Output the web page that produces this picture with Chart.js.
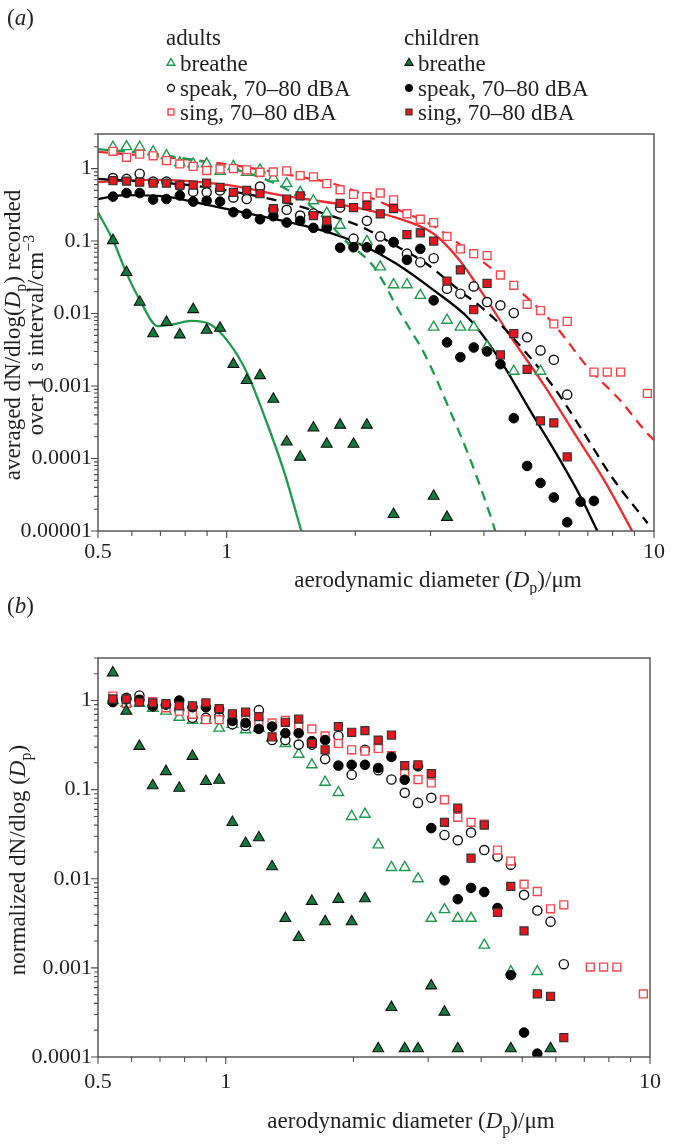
<!DOCTYPE html>
<html>
<head>
<meta charset="utf-8">
<script src="https://cdn.jsdelivr.net/npm/chart.js@4.4.1/dist/chart.umd.min.js"></script>
<style>
  html, body { margin: 0; padding: 0; background: #fff; }
  #wrap { position: relative; width: 673px; height: 1145px; overflow: hidden; }
  #wrap canvas { position: absolute; left: 0; }
  #chartA { top: 0; }
  #chartB { top: 595px; }
</style>
</head>
<body>
<div id="wrap">
  <canvas id="chartA" width="673" height="595"></canvas>
  <canvas id="chartB" width="673" height="550"></canvas>
</div>
<script>
// APS channel midpoints (µm)
const sizes = [0.542, 0.583, 0.626, 0.673, 0.723, 0.777, 0.835, 0.898, 0.965, 1.037,
    1.114, 1.197, 1.286, 1.382, 1.486, 1.596, 1.715, 1.843, 1.981, 2.129,
    2.288, 2.458, 2.642, 2.839, 3.051, 3.278, 3.523, 3.786, 4.068, 4.371,
    4.698, 5.048, 5.425, 5.829, 6.264, 6.732, 7.234, 7.774, 8.354, 8.977, 9.647];

const xTicks = [0.5, 1, 10];
const yTicksA = [1, 0.1, 0.01, 0.001, 0.0001, 0.00001];
const yTicksB = [1, 0.1, 0.01, 0.001, 0.0001];

// (a) averaged dN/dlog(Dp), one value per channel (null = no point)
const adultBreatheA = [1.97, 2.01, 1.97, 1.71, 1.51, 1.20, 1.16, 1.16, 0.92, 1.07, 0.89, 0.96, 0.74, 0.62, 0.47, 0.36, 0.243, 0.165, 0.10, 0.099,
    0.044, 0.025, 0.025, 0.0178, 0.0065, 0.0081, 0.0065, 0.0065, 0.0035, null, 0.0016, null, 0.0016];
const adultSpeakA = [0.74, 0.72, 0.85, 0.66, 0.66, 0.58, 0.48, 0.47, 0.50, 0.40, 0.38, 0.565, 0.27, 0.27, 0.225, 0.24, 0.16, 0.29, 0.108, 0.19,
    0.116, 0.096, 0.067, 0.051, 0.058, 0.022, 0.0188, 0.0237, 0.0144, 0.013, 0.0102, 0.0047, 0.0031, 0.0023, 0.00076];
const adultSingA = [1.73, 1.43, 1.58, 1.50, 1.29, 1.16, 1.07, 0.94, 0.99, 1.00, 0.96, 0.89, 0.90, 0.93, 0.80, 0.77, 0.62, 0.51, 0.44, 0.41,
    0.46, 0.37, 0.238, 0.20, 0.18, 0.116, 0.078, 0.067, 0.063, 0.034, 0.0245, 0.0134, 0.011, 0.0072, 0.0078, null, 0.00156, 0.00156, 0.00156, null, 0.00079];
const childBreatheA = [0.102, 0.037, 0.0144, 0.0053, 0.0076, 0.0051, 0.0114, 0.0059, 0.0063, 0.0020, 0.0012, 0.0014, 0.00066, 0.00017, 0.000105, 0.000265, 0.000158, 0.00029, 0.000158, 0.00029,
    null, 0.000017, null, null, 0.0000303, 0.0000155];
const childSpeakA = [0.41, 0.46, 0.46, 0.374, 0.38, 0.425, 0.35, 0.36, 0.35, 0.25, 0.238, 0.20, 0.22, 0.18, 0.19, 0.152, 0.15, 0.081, 0.082, 0.082,
    0.076, 0.097, 0.055, 0.078, 0.0152, 0.0040, 0.0025, 0.0034, 0.0030, 0.0020, 0.00036, 0.000079, 0.000046, 0.000029, 0.0000132, 0.0000253, 0.000026];
const childSingA = [0.68, 0.67, 0.65, 0.63, 0.63, 0.59, 0.59, 0.63, 0.55, 0.47, 0.50, 0.45, 0.28, 0.38, 0.42, 0.225, 0.19, 0.33, 0.29, 0.31,
    0.238, 0.28, 0.123, 0.13, 0.10, 0.028, 0.040, 0.0113, 0.026, 0.0027, 0.0053, 0.0017, 0.00033, 0.00031, 0.000105];

// (a) fitted curves
const fitAdultBreatheX = [0.5, 0.7, 1.0, 1.3, 1.5, 1.7, 1.9, 2.21, 2.54, 2.93, 3.30, 3.72, 4.16, 4.25];
const fitAdultBreatheY = [1.85, 1.55, 1.05, 0.62, 0.38, 0.2, 0.1, 0.044, 0.0105, 0.0025, 0.00052, 0.000095, 0.000015, 0.00001];
const fitAdultSpeakX = [0.5, 0.8, 1.0, 1.4, 1.81, 2.08, 2.5, 2.93, 3.5, 4.03, 4.54, 5.82, 6.79, 7.96, 9.66];
const fitAdultSpeakY = [0.72, 0.6, 0.5, 0.33, 0.21, 0.155, 0.085, 0.049, 0.021, 0.011, 0.0056, 0.00097, 0.000246, 0.000056, 0.0000128];
const fitAdultSingX = [0.5, 0.8, 1.0, 1.4, 1.845, 2.44, 3.08, 3.80, 4.74, 5.82, 6.99, 8.32, 9.66, 10];
const fitAdultSingY = [1.7, 1.35, 1.15, 0.82, 0.58, 0.293, 0.155, 0.063, 0.023, 0.0072, 0.00183, 0.00064, 0.00022, 0.00018];
const fitChildBreatheX = [0.5, 0.543, 0.582, 0.627, 0.69, 0.748, 0.828, 0.914, 1.011, 1.117, 1.235, 1.366, 1.495];
const fitChildBreatheY = [0.25, 0.10, 0.037, 0.0152, 0.0067, 0.0071, 0.0079, 0.0071, 0.0040, 0.0015, 0.00034, 0.000063, 0.00001];
const fitChildSpeakX = [0.5, 0.58, 0.72, 0.913, 1.233, 1.67, 2.04, 2.49, 3.05, 3.72, 4.37, 5.12, 6.03, 6.79, 7.37];
const fitChildSpeakY = [0.38, 0.43, 0.41, 0.31, 0.214, 0.14, 0.092, 0.049, 0.021, 0.0081, 0.00226, 0.00047, 0.000095, 0.000027, 0.00001];
const fitChildSingX = [0.5, 0.677, 1.01, 1.366, 1.845, 2.49, 3.05, 3.51, 4.07, 4.54, 5.56, 6.52, 7.65, 8.89];
const fitChildSingY = [0.65, 0.70, 0.59, 0.42, 0.32, 0.21, 0.126, 0.054, 0.0152, 0.0056, 0.00098, 0.00022, 0.00005, 0.00001];

// (b) normalized dN/dlog(Dp)
const adultBreatheB = [1.0, 0.93, 0.93, 0.82, 0.76, 0.65, 0.60, 0.60, 0.49, 0.54, 0.47, 0.49, 0.38, 0.33, 0.25, 0.19, 0.121, 0.093, 0.05, 0.053,
    0.024, 0.0134, 0.0134, 0.01, 0.0036, 0.0045, 0.0036, 0.0036, 0.0018, null, 0.00091, null, 0.00091];
const adultSpeakB = [1.0, 1.07, 1.14, 0.88, 0.88, 0.79, 0.64, 0.64, 0.66, 0.54, 0.52, 0.78, 0.36, 0.36, 0.32, 0.32, 0.22, 0.40, 0.147, 0.28,
    0.165, 0.13, 0.092, 0.071, 0.081, 0.031, 0.027, 0.033, 0.021, 0.0178, 0.0144, 0.0066, 0.0044, 0.0033, 0.0011];
const adultSingB = [1.12, 0.93, 1.02, 0.97, 0.83, 0.76, 0.70, 0.61, 0.61, 0.64, 0.61, 0.57, 0.56, 0.60, 0.52, 0.48, 0.40, 0.33, 0.28, 0.27,
    0.29, 0.24, 0.154, 0.13, 0.119, 0.077, 0.049, 0.043, 0.041, 0.021, 0.0158, 0.0087, 0.0072, 0.0046, 0.0051, null, 0.00102, 0.00102, 0.00102, null, 0.00051];
const childBreatheB = [2.05, 0.76, 0.307, 0.111, 0.16, 0.104, 0.237, 0.124, 0.128, 0.043, 0.025, 0.029, 0.0137, 0.0036, 0.0022, 0.0056, 0.0033, 0.0059, 0.0033, 0.006,
    0.000124, 0.00036, 0.000124, 0.000124, 0.00063, 0.00032, 0.000124, null, null, null, 0.000124, null, null, 0.000124];
const childSpeakB = [0.96, 1.03, 1.02, 0.86, 0.90, 1.00, 0.84, 0.84, 0.80, 0.59, 0.56, 0.48, 0.51, 0.43, 0.43, 0.35, 0.36, 0.186, 0.19, 0.19,
    0.175, 0.233, 0.129, 0.183, 0.037, 0.0096, 0.0059, 0.0079, 0.0071, 0.0047, 0.00083, 0.000188, 0.000109];
const childSingB = [1.04, 1.04, 0.96, 0.94, 0.92, 0.87, 0.87, 0.94, 0.81, 0.71, 0.74, 0.66, 0.39, 0.57, 0.62, 0.33, 0.28, 0.51, 0.44, 0.46,
    0.36, 0.41, 0.186, 0.19, 0.151, 0.043, 0.062, 0.017, 0.04, 0.0042, 0.0082, 0.0026, 0.00051, 0.00048, 0.000165];

const legendGroups = ['adults', 'children'];
const legendLabels = ['breathe', 'speak, 70\u201380 dBA', 'sing, 70\u201380 dBA'];

const FONT = "'Liberation Serif', 'Times New Roman', serif";
const FONT_SIZE = 23;
const TICK_SIZE = 22;
const TEXT = '#231f20';
const AXIS = '#4d4d4d';
const GREEN = '#1f9a4c';
const DARK_GREEN = '#137a3c';
const RED = '#ee2b2e';
const LIGHT_RED = '#f04a4e';

const markers = {
    adultBreathe: { pointStyle: 'triangle', radius: 6, fill: '#ffffff', stroke: GREEN, width: 1.4 },
    adultSpeak: { pointStyle: 'circle', radius: 4.6, fill: '#ffffff', stroke: '#111111', width: 1.4 },
    adultSing: { pointStyle: 'rect', radius: 5.6, fill: '#ffffff', stroke: LIGHT_RED, width: 1.4 },
    childBreathe: { pointStyle: 'triangle', radius: 6.3, fill: DARK_GREEN, stroke: '#111111', width: 1.1 },
    childSpeak: { pointStyle: 'circle', radius: 4.8, fill: '#000000', stroke: '#000000', width: 1 },
    childSing: { pointStyle: 'rect', radius: 5.7, fill: '#e8151d', stroke: '#333333', width: 1.2 }
};

function pts(vals) {
    return sizes.map((x, i) => (vals[i] == null ? null : { x: x, y: vals[i] })).filter(p => p);
}

function curve(xs, ys) {
    return xs.map((x, i) => ({ x: x, y: ys[i] }));
}

function markerSet(vals, m, order) {
    return {
        data: pts(vals),
        showLine: false,
        pointStyle: m.pointStyle,
        pointRadius: m.radius,
        pointBackgroundColor: m.fill,
        pointBorderColor: m.stroke,
        pointBorderWidth: m.width,
        order: order
    };
}

function fitSet(xs, ys, color, dashed) {
    return {
        data: curve(xs, ys),
        showLine: true,
        pointRadius: 0,
        borderColor: color,
        borderWidth: 2.3,
        borderDash: dashed ? [10, 7] : [],
        cubicInterpolationMode: 'monotone',
        order: 10
    };
}

// text with italic / sub / sup runs, y is the baseline
function richText(ctx, parts, x, y, size, align) {
    const fontFor = st => (st === 'i' ? 'italic ' : '') +
        ((st === 'sub' || st === 'sup') ? Math.round(size * 0.68) : size) + 'px ' + FONT;
    let total = 0;
    parts.forEach(([t, st]) => { ctx.font = fontFor(st); total += ctx.measureText(t).width; });
    let cx = align === 'center' ? x - total / 2 : x;
    ctx.textAlign = 'left';
    ctx.textBaseline = 'alphabetic';
    parts.forEach(([t, st]) => {
        ctx.font = fontFor(st);
        const dy = st === 'sub' ? size * 0.26 : (st === 'sup' ? -size * 0.38 : 0);
        ctx.fillText(t, cx, y + dy);
        cx += ctx.measureText(t).width;
    });
}

function rotatedText(ctx, parts, x, y, size) {
    ctx.save();
    ctx.translate(x, y);
    ctx.rotate(-Math.PI / 2);
    richText(ctx, parts, 0, 0, size, 'center');
    ctx.restore();
}

function drawMarker(ctx, m, x, y) {
    ctx.save();
    ctx.fillStyle = m.fill;
    ctx.strokeStyle = m.stroke;
    ctx.lineWidth = m.width;
    Chart.helpers.drawPoint(ctx, { pointStyle: m.pointStyle, radius: m.radius, rotation: 0, borderWidth: m.width }, x, y);
    ctx.restore();
}

// box round the plot and log tick marks (outside)
const framePlugin = {
    id: 'frame',
    afterDraw(chart) {
        const { ctx, chartArea: a } = chart;
        const x = chart.scales.x, y = chart.scales.y;
        ctx.save();
        ctx.strokeStyle = AXIS;
        ctx.lineWidth = 1.4;
        ctx.strokeRect(a.left, a.top, a.right - a.left, a.bottom - a.top);
        ctx.lineWidth = 1.1;
        ctx.beginPath();
        for (let d = -6; d <= 1; d++) {
            for (let m = 1; m <= 9; m++) {
                const v = m * Math.pow(10, d);
                if (v < y.min * 0.999 || v > y.max * 1.001) continue;
                const py = y.getPixelForValue(v);
                const len = m === 1 ? 7 : 4;
                ctx.moveTo(a.left - len, py);
                ctx.lineTo(a.left, py);
            }
        }
        for (let d = -1; d <= 1; d++) {
            for (let m = 1; m <= 9; m++) {
                const v = m * Math.pow(10, d);
                if (v < x.min * 0.999 || v > x.max * 1.001) continue;
                const px = x.getPixelForValue(v);
                const major = xTicks.some(t => Math.abs(t - v) < 1e-9);
                ctx.moveTo(px, a.bottom);
                ctx.lineTo(px, a.bottom + (major ? 7 : 5));
            }
        }
        ctx.stroke();
        ctx.restore();
    }
};

const textPluginA = {
    id: 'textA',
    afterDraw(chart) {
        const ctx = chart.ctx;
        ctx.save();
        ctx.fillStyle = TEXT;
        richText(ctx, [['(', 'n'], ['a', 'i'], [')', 'n']], 7, 25, FONT_SIZE, 'left');

        // legend, two columns
        const cols = [
            { x: 166, items: [markers.adultBreathe, markers.adultSpeak, markers.adultSing] },
            { x: 404, items: [markers.childBreathe, markers.childSpeak, markers.childSing] }
        ];
        const rowY = [63, 88, 112];
        cols.forEach((c, ci) => {
            ctx.fillStyle = TEXT;
            richText(ctx, [[legendGroups[ci], 'n']], c.x, 37 + 8, FONT_SIZE, 'left');
            c.items.forEach((m, ri) => {
                drawMarker(ctx, { ...m, radius: m.radius * 0.75 }, c.x + 5, rowY[ri]);
                ctx.fillStyle = TEXT;
                richText(ctx, [[legendLabels[ri], 'n']], c.x + 14, rowY[ri] + 8, FONT_SIZE, 'left');
            });
        });

        ctx.fillStyle = TEXT;
        rotatedText(ctx, [['averaged dN/dlog(', 'n'], ['D', 'i'], ['p', 'sub'], [') recorded', 'n']], 20, 335, FONT_SIZE);
        rotatedText(ctx, [['over 1 s interval/cm', 'n'], ['\u22123', 'sup']], 43, 335, FONT_SIZE);
        richText(ctx, [['aerodynamic diameter (', 'n'], ['D', 'i'], ['p', 'sub'], [')/\u03bcm', 'n']], 438, 587, FONT_SIZE, 'center');
        ctx.restore();
    }
};

const textPluginB = {
    id: 'textB',
    afterDraw(chart) {
        const ctx = chart.ctx;
        ctx.save();
        ctx.fillStyle = TEXT;
        richText(ctx, [['(', 'n'], ['b', 'i'], [')', 'n']], 7, 18, FONT_SIZE, 'left');
        rotatedText(ctx, [['normalized dN/dlog (', 'n'], ['D', 'i'], ['p', 'sub'], [')', 'n']], 25, 265, FONT_SIZE);
        richText(ctx, [['aerodynamic diameter (', 'n'], ['D', 'i'], ['p', 'sub'], [')/\u03bcm', 'n']], 411, 533, FONT_SIZE, 'center');
        ctx.restore();
    }
};

function makePanel(canvas, cfg) {
    const tickFont = { family: FONT, size: TICK_SIZE };
    return new Chart(canvas.getContext('2d'), {
        type: 'scatter',
        data: { datasets: cfg.datasets },
        options: {
            responsive: false,
            animation: false,
            devicePixelRatio: 1,
            layout: { padding: { top: cfg.top, right: 15, left: 0, bottom: 0 } },
            plugins: { legend: { display: false }, tooltip: { enabled: false } },
            scales: {
                x: {
                    type: 'logarithmic',
                    min: 0.5,
                    max: 10,
                    afterBuildTicks: s => { s.ticks = xTicks.map(v => ({ value: v })); },
                    afterFit: s => { s.height = cfg.xHeight; },
                    grid: { display: false, drawTicks: false },
                    border: { display: false },
                    ticks: {
                        color: TEXT, font: tickFont, padding: cfg.xPad,
                        autoSkip: false, maxRotation: 0,
                        callback: v => String(v)
                    }
                },
                y: {
                    type: 'logarithmic',
                    min: cfg.yMin,
                    max: 3,
                    afterBuildTicks: s => { s.ticks = cfg.yTicks.map(v => ({ value: v })); },
                    afterFit: s => { s.width = 98; },
                    grid: { display: false, drawTicks: false },
                    border: { display: false },
                    ticks: {
                        color: TEXT, font: tickFont, padding: 6,
                        autoSkip: false,
                        callback: v => String(v)
                    }
                }
            }
        },
        plugins: [framePlugin, cfg.textPlugin]
    });
}

makePanel(document.getElementById('chartA'), {
    top: 134, xHeight: 64, xPad: 8, yMin: 0.00001, yTicks: yTicksA, textPlugin: textPluginA,
    datasets: [
        markerSet(childSingA, markers.childSing, 0),
        markerSet(childSpeakA, markers.childSpeak, 1),
        markerSet(childBreatheA, markers.childBreathe, 2),
        markerSet(adultSingA, markers.adultSing, 3),
        markerSet(adultSpeakA, markers.adultSpeak, 4),
        markerSet(adultBreatheA, markers.adultBreathe, 5),
        fitSet(fitChildBreatheX, fitChildBreatheY, GREEN, false),
        fitSet(fitAdultBreatheX, fitAdultBreatheY, GREEN, true),
        fitSet(fitChildSpeakX, fitChildSpeakY, '#000000', false),
        fitSet(fitAdultSpeakX, fitAdultSpeakY, '#000000', true),
        fitSet(fitChildSingX, fitChildSingY, RED, false),
        fitSet(fitAdultSingX, fitAdultSingY, RED, true)
    ]
});

makePanel(document.getElementById('chartB'), {
    top: 63, xHeight: 88, xPad: 12, yMin: 0.0001, yTicks: yTicksB, textPlugin: textPluginB,
    datasets: [
        markerSet(childSingB, markers.childSing, 0),
        markerSet(childSpeakB, markers.childSpeak, 1),
        markerSet(childBreatheB, markers.childBreathe, 2),
        markerSet(adultSingB, markers.adultSing, 3),
        markerSet(adultSpeakB, markers.adultSpeak, 4),
        markerSet(adultBreatheB, markers.adultBreathe, 5)
    ]
});
</script>
</body>
</html>
